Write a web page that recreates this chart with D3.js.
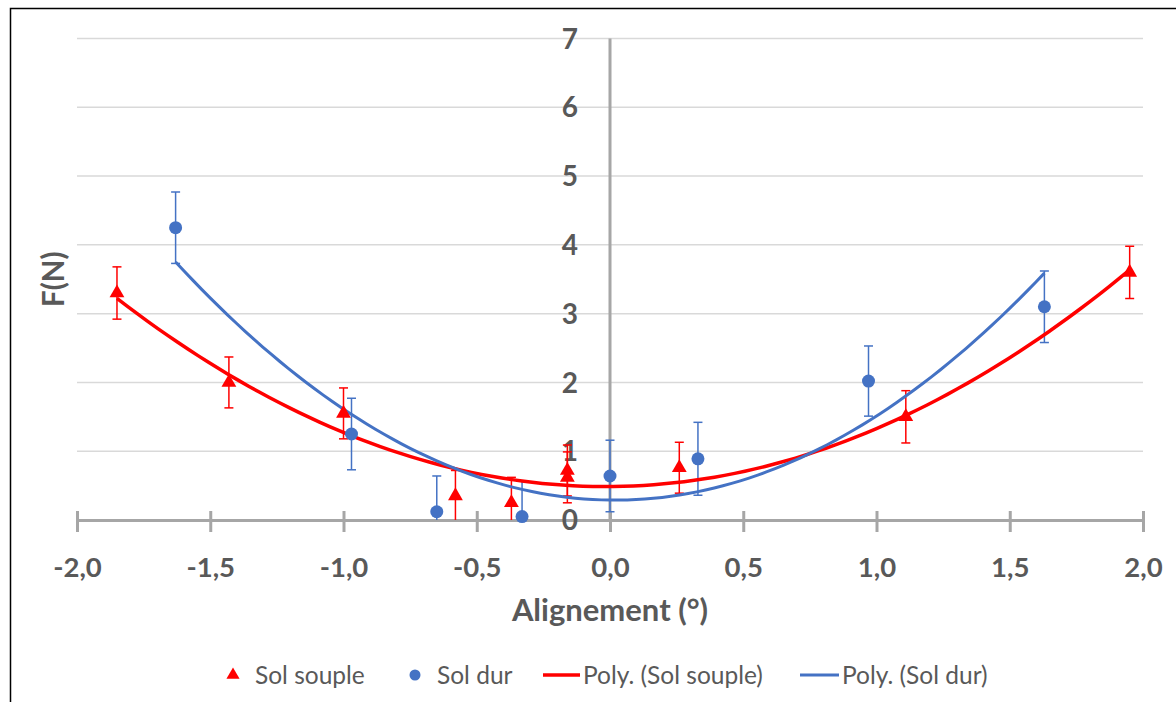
<!DOCTYPE html>
<html>
<head>
<meta charset="utf-8">
<script src="https://cdn.jsdelivr.net/npm/d3@7"></script>
<style>
  html, body { margin: 0; padding: 0; background: #fff; }
  svg { display: block; font-family: Lato, "Liberation Sans", sans-serif; }
</style>
</head>
<body>
<svg id="chart" width="1176" height="702"></svg>
<script>
// Sol souple (triangles) : alignement, force, error
var soupleX = [-1.85, -1.43, -1.00, -0.58, -0.37, -0.16, -0.16, 0.26, 1.11, 1.95];
var soupleY = [3.30, 2.00, 1.55, 0.35, 0.25, 0.72, 0.62, 0.76, 1.50, 3.60];
var soupleErr = [0.38, 0.37, 0.37, 0.37, 0.37, 0.37, 0.37, 0.37, 0.38, 0.38];

// Sol dur (circles)
var durX = [-1.63, -0.97, -0.65, -0.33, 0.00, 0.33, 0.97, 1.63];
var durY = [4.25, 1.25, 0.12, 0.05, 0.64, 0.89, 2.02, 3.10];
var durErr = [0.52, 0.52, 0.52, 0.52, 0.52, 0.53, 0.51, 0.52];

var xTicks = [-2.0, -1.5, -1.0, -0.5, 0.0, 0.5, 1.0, 1.5, 2.0];
var yTicks = [0, 1, 2, 3, 4, 5, 6, 7];

var red = "#FF0000", blue = "#4472C4", axisGrey = "#A6A6A6", textGrey = "#595959";

var svg = d3.select("#chart");

//Scales
var x = d3.scaleLinear().domain([-2, 2]).range([77, 1143]);
var y = d3.scaleLinear().domain([0, 7]).range([520, 38.5]);

//Outer frame (right and bottom edges sit off the picture)
svg.append("rect")
  .attr("x", 10.5).attr("y", 8.5)
  .attr("width", 1180).attr("height", 710)
  .attr("fill", "none").attr("stroke", "#000").attr("stroke-width", 1.5);

//Clip to the plot area
svg.append("clipPath").attr("id", "plot")
  .append("rect")
  .attr("x", x(-2)).attr("y", y(7))
  .attr("width", x(2) - x(-2)).attr("height", y(0) - y(7));

//Gridlines
svg.append("g")
  .selectAll("line")
  .data(yTicks.filter(function(d) { return d > 0; }))
  .enter().append("line")
  .attr("x1", x(-2)).attr("x2", x(2))
  .attr("y1", function(d) { return y(d); })
  .attr("y2", function(d) { return y(d); })
  .attr("stroke", "#D9D9D9").attr("stroke-width", 1.5);

//Vertical axis at x = 0
svg.append("line")
  .attr("x1", x(0)).attr("x2", x(0))
  .attr("y1", y(7)).attr("y2", y(0))
  .attr("stroke", axisGrey).attr("stroke-width", 3);

//Horizontal axis with crossing ticks
var xAxis = d3.axisBottom(x)
  .tickValues(xTicks)
  .tickSize(12)
  .tickSizeOuter(0)
  .tickFormat(function(d) { return d3.format(".1f")(d).replace(".", ",").replace("−", "-"); });

var gx = svg.append("g")
  .attr("transform", "translate(0," + y(0) + ")")
  .call(xAxis);
gx.select(".domain").attr("stroke", axisGrey).attr("stroke-width", 3);
gx.selectAll(".tick line")
  .attr("y1", -9)
  .attr("stroke", axisGrey).attr("stroke-width", 3);
gx.selectAll(".tick text")
  .attr("y", 47).attr("dy", "0.35em")
  .attr("fill", textGrey)
  .style("font-size", "27.5px").style("font-weight", "bold")
  .style("font-family", "Lato, 'Liberation Sans', sans-serif");

//Vertical axis labels (no ticks)
svg.append("g")
  .selectAll("text")
  .data(yTicks)
  .enter().append("text")
  .attr("x", 578)
  .attr("y", function(d) { return y(d); })
  .attr("dy", "0.36em")
  .attr("text-anchor", "end")
  .attr("fill", textGrey)
  .style("font-size", "28px").style("font-weight", "bold")
  .text(function(d) { return d; });

//Axis titles
svg.append("text")
  .attr("x", x(0)).attr("y", 610)
  .attr("dy", "0.35em")
  .attr("text-anchor", "middle")
  .attr("fill", textGrey)
  .style("font-size", "31px").style("font-weight", "bold")
  .text("Alignement (°)");

svg.append("text")
  .attr("transform", "translate(54," + y(3.5) + ") rotate(-90)")
  .attr("dy", "0.35em")
  .attr("text-anchor", "middle")
  .attr("fill", textGrey)
  .style("font-size", "29.5px").style("font-weight", "bold")
  .text("F(N)");

//Least squares 2nd order polynomial (like Excel's Poly. trendline)
function polyfit2(xs, ys) {
  var s = [0, 0, 0, 0, 0], t = [0, 0, 0];
  xs.forEach(function(xi, i) {
    for (var k = 0; k < 5; k++) s[k] += Math.pow(xi, k);
    for (var j = 0; j < 3; j++) t[j] += ys[i] * Math.pow(xi, j);
  });
  var m = [[s[0], s[1], s[2], t[0]], [s[1], s[2], s[3], t[1]], [s[2], s[3], s[4], t[2]]];
  for (var c = 0; c < 3; c++) {
    for (var r = c + 1; r < 3; r++) {
      var f = m[r][c] / m[c][c];
      for (var q = c; q < 4; q++) m[r][q] -= f * m[c][q];
    }
  }
  var coef = [0, 0, 0];
  for (var r2 = 2; r2 >= 0; r2--) {
    var v = m[r2][3];
    for (var q2 = r2 + 1; q2 < 3; q2++) v -= m[r2][q2] * coef[q2];
    coef[r2] = v / m[r2][r2];
  }
  return function(xv) { return coef[0] + coef[1] * xv + coef[2] * xv * xv; };
}

function trend(xs, ys, color, width) {
  var f = polyfit2(xs, ys);
  var lo = d3.min(xs), hi = d3.max(xs);
  var pts = d3.range(0, 101).map(function(i) { var xv = lo + (hi - lo) * i / 100; return [xv, f(xv)]; });
  svg.append("path")
    .datum(pts)
    .attr("clip-path", "url(#plot)")
    .attr("fill", "none")
    .attr("stroke", color)
    .attr("stroke-width", width)
    .attr("d", d3.line().x(function(d) { return x(d[0]); }).y(function(d) { return y(d[1]); }));
}

function errorBars(xs, ys, es, color) {
  var g = svg.append("g").attr("clip-path", "url(#plot)")
    .attr("stroke", color).attr("stroke-width", 1.5);
  xs.forEach(function(xv, i) {
    var px = x(xv), top = y(ys[i] + es[i]), bot = y(ys[i] - es[i]);
    g.append("line").attr("x1", px).attr("x2", px).attr("y1", top).attr("y2", bot);
    g.append("line").attr("x1", px - 4.5).attr("x2", px + 4.5).attr("y1", top).attr("y2", top);
    g.append("line").attr("x1", px - 4.5).attr("x2", px + 4.5).attr("y1", bot).attr("y2", bot);
  });
}

errorBars(soupleX, soupleY, soupleErr, red);
errorBars(durX, durY, durErr, blue);

trend(soupleX, soupleY, red, 3.5);
trend(durX, durY, blue, 3);

var tri = d3.symbol().type(d3.symbolTriangle).size(95);

svg.append("g")
  .selectAll("path")
  .data(soupleX)
  .enter().append("path")
  .attr("d", tri)
  .attr("transform", function(d, i) { return "translate(" + x(d) + "," + y(soupleY[i]) + ")"; })
  .attr("fill", red);

svg.append("g")
  .selectAll("circle")
  .data(durX)
  .enter().append("circle")
  .attr("cx", function(d) { return x(d); })
  .attr("cy", function(d, i) { return y(durY[i]); })
  .attr("r", 6.5)
  .attr("fill", blue);

//Legend
var ly = 675;
var legend = svg.append("g").style("font-size", "24.5px").attr("fill", textGrey);

legend.append("path").attr("d", d3.symbol().type(d3.symbolTriangle).size(75))
  .attr("transform", "translate(233," + ly + ")").attr("fill", red);
legend.append("text").attr("x", 255).attr("y", ly).attr("dy", "0.35em").text("Sol souple");

legend.append("circle").attr("cx", 415).attr("cy", ly).attr("r", 5.5).attr("fill", blue);
legend.append("text").attr("x", 437).attr("y", ly).attr("dy", "0.35em").text("Sol dur");

legend.append("line").attr("x1", 543).attr("x2", 580).attr("y1", ly).attr("y2", ly)
  .attr("stroke", red).attr("stroke-width", 3.5);
legend.append("text").attr("x", 583).attr("y", ly).attr("dy", "0.35em").text("Poly. (Sol souple)");

legend.append("line").attr("x1", 800).attr("x2", 839).attr("y1", ly).attr("y2", ly)
  .attr("stroke", blue).attr("stroke-width", 3);
legend.append("text").attr("x", 842).attr("y", ly).attr("dy", "0.35em").text("Poly. (Sol dur)");
</script>
</body>
</html>
